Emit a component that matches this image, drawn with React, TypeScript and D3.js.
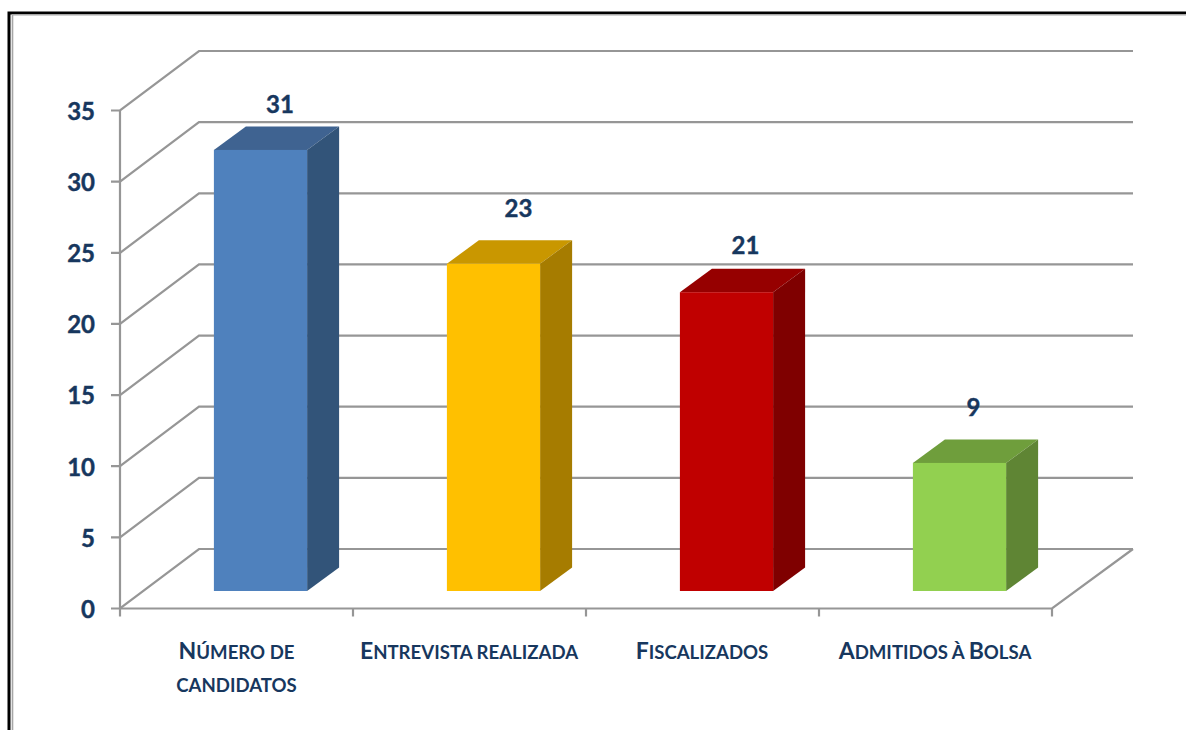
import React from "react";
import * as d3 from "d3";

const categories = [["Número de", "candidatos"], ["Entrevista realizada"], ["Fiscalizados"], ["Admitidos à Bolsa"]];
const values = [31, 23, 21, 9];
const frontColors = ["#4F81BD", "#FFC000", "#C00000", "#92D050"];
const topColors = ["#3F6391", "#C99700", "#960000", "#6F9E3C"];
const sideColors = ["#325479", "#A67C00", "#7F0000", "#5F8534"];
const yTicks = [0, 5, 10, 15, 20, 25, 30, 35];

const W = 1186, H = 730;
const x0 = 120, x1 = 1052;
const depthX = 79, depthY = 59.5, backRight = 1133;
const barDepthX = 32, barDepthY = 23.5;
const barInsetX = 24, barInsetY = 17.5;
const TEXT = "#17375E";
const GRID = "#969696";
const FONT = "Lato, Carlito, 'Open Sans', sans-serif";
const labelLift = [22, 32, 23, 32];
const labelShift = [-0.5, 5, -1, -6];
const catY = [659, 659, 659, 659];
const catX = [236.5, 469, 702, 935];

const y = d3.scaleLinear().domain([0, 35]).range([608.5, 110.5]);
const x = d3.scaleBand<number>().domain(d3.range(4)).range([x0, x1]).paddingInner(0).paddingOuter(0);
const line = d3.line();
const poly = (p: [number, number][]) => line(p) + "Z";

// Split a label into runs so that capitals stay large and lowercase renders as small capitals.
const runs = (s: string) => s.match(/[A-ZÀ-Ý]+|[^A-ZÀ-Ý]+/g) ?? [];

export default function App() {
  const bw = x.bandwidth() * 0.4;
  return (
    <svg width={W} height={H} style={{ position: "absolute", left: 0, top: 0, background: "#fff", fontFamily: FONT }}>
      <path d={`M9 ${H}V13H${W}`} fill="none" stroke="#000" strokeWidth={3} />
      <path d={`M12.5 ${H}V14.8H${W}`} fill="none" stroke="#A6A6A6" strokeWidth={1.6} />

      <g fill="none" stroke={GRID} strokeWidth={2.2}>
        {yTicks.map((t) => (
          <path key={t} d={`M${x0 - 9} ${y(t)}H${x0}L${x0 + depthX} ${y(t) - depthY}H${backRight}`} />
        ))}
        <path d={`M${x0} ${y(35)}V${y(0)}`} />
        <path d={`M${x0} ${y(0)}H${x1}L${backRight} ${y(0) - depthY}`} />
        {d3.range(5).map((i) => {
          const tx = x0 + i * x.bandwidth();
          return <path key={i} d={`M${tx} ${y(0)}V${y(0) + 8}`} />;
        })}
      </g>

      {values.map((v, i) => {
        const cx = x(i)! + x.bandwidth() / 2 + barInsetX;
        const l = cx - bw / 2, r = cx + bw / 2;
        const b = y(0) - barInsetY;
        const t = b - (y(0) - y(v));
        return (
          <g key={i}>
            <path d={poly([[l, t], [l + barDepthX, t - barDepthY], [r + barDepthX, t - barDepthY], [r, t]])} fill={topColors[i]} />
            <path d={poly([[r, t], [r + barDepthX, t - barDepthY], [r + barDepthX, b - barDepthY], [r, b]])} fill={sideColors[i]} />
            <rect x={l} y={t} width={bw} height={b - t} fill={frontColors[i]} />
            <text x={cx + barDepthX / 2 + 4 + labelShift[i]} y={t - barDepthY - labelLift[i]} dy="0.35em"
              textAnchor="middle" fontSize={24} fontWeight={700} fill={TEXT} stroke={TEXT} strokeWidth={0.4}>{v}</text>
          </g>
        );
      })}

      {yTicks.map((t) => (
        <text key={t} x={95} y={y(t) + 1} dy="0.35em" textAnchor="end" fontSize={24} fontWeight={700} fill={TEXT} stroke={TEXT} strokeWidth={0.4}>{t}</text>
      ))}

      {categories.map((lines, i) => (
        <text key={i} textAnchor="middle" fontWeight={700} fill={TEXT}>
          {lines.map((s, j) => (
            <tspan key={j} x={catX[i]} y={catY[i] + j * 33}>
              {runs(s).map((r, k) => {
                const big = r === r.toUpperCase() && r.trim() !== "";
                return (
                  <tspan key={k} fontSize={big ? 23 : 18.6} style={{ textTransform: big ? "none" : "uppercase" }}>{r}</tspan>
                );
              })}
            </tspan>
          ))}
        </text>
      ))}
    </svg>
  );
}
